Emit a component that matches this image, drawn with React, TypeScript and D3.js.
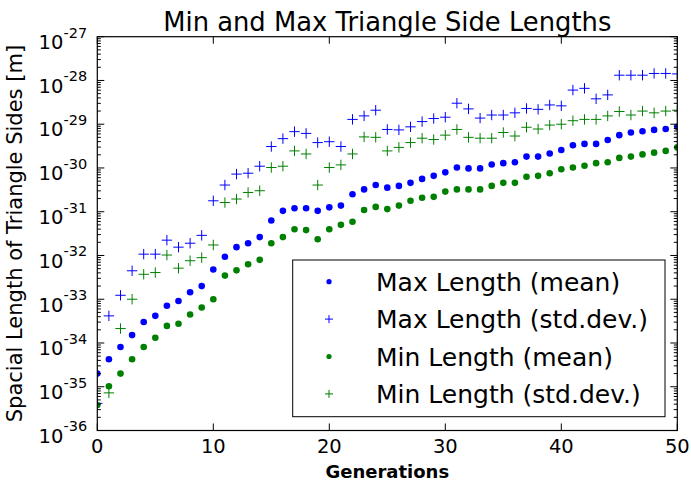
import React, { useEffect, useRef } from "react";
import * as d3 from "d3";

// values, stored as log10 of the length in metres (index = generation)
const maxMeanLog = [
  -34.70, -34.37, -34.09, -33.82, -33.52, -33.38, -33.15, -33.04, -32.84, -32.70,
  -32.32, -32.03, -31.81, -31.72, -31.58, -31.20, -30.98, -30.92, -30.92, -30.98,
  -30.90, -30.86, -30.60, -30.49, -30.39, -30.45, -30.41, -30.34, -30.25, -30.18,
  -30.10, -29.99, -30.01, -30.01, -29.92, -29.89, -29.87, -29.74, -29.74, -29.67,
  -29.59, -29.48, -29.45, -29.45, -29.36, -29.25, -29.19, -29.16, -29.13, -29.11,
  -29.06,
];
const maxStdLog = [
  -35.38, -33.38, -32.91, -32.35, -31.97, -31.97, -31.65, -31.81, -31.72, -31.54,
  -30.75, -30.39, -30.14, -30.12, -29.96, -29.51, -29.33, -29.17, -29.21, -29.42,
  -29.40, -29.51, -28.89, -28.81, -28.68, -29.12, -29.13, -29.06, -28.94, -28.87,
  -28.84, -28.52, -28.65, -28.86, -28.79, -28.79, -28.74, -28.64, -28.66, -28.56,
  -28.58, -28.22, -28.18, -28.42, -28.33, -27.88, -27.88, -27.88, -27.84, -27.84,
  -27.85,
];
const minMeanLog = [
  -35.42, -34.99, -34.70, -34.37, -34.09, -33.88, -33.61, -33.56, -33.35, -33.19,
  -33.00, -32.46, -32.34, -32.20, -32.10, -31.72, -31.58, -31.40, -31.42, -31.63,
  -31.40, -31.30, -31.23, -30.96, -30.89, -30.94, -30.86, -30.75, -30.68, -30.66,
  -30.54, -30.49, -30.49, -30.49, -30.41, -30.34, -30.34, -30.20, -30.18, -30.12,
  -30.03, -29.99, -29.95, -29.89, -29.87, -29.77, -29.74, -29.69, -29.65, -29.61,
  -29.53,
];
const minStdLog = [
  null, -35.14, -33.67, -33.00, -32.43, -32.39, -31.99, -32.29, -32.12, -32.05,
  -31.76, -30.79, -30.71, -30.56, -30.52, -29.99, -29.96, -29.61, -29.68, -30.39,
  -29.99, -29.93, -29.68, -29.29, -29.30, -29.61, -29.53, -29.42, -29.32, -29.35,
  -29.25, -29.12, -29.30, -29.32, -29.32, -29.19, -29.27, -29.07, -29.11, -29.02,
  -29.00, -28.92, -28.89, -28.89, -28.81, -28.71, -28.79, -28.70, -28.74, -28.70,
  -28.68,
];

const seriesNames = [
  "Max Length (mean)",
  "Max Length (std.dev.)",
  "Min Length (mean)",
  "Min Length (std.dev.)",
];
const xTicks = [0, 10, 20, 30, 40, 50];
const yDecades = [-36, -35, -34, -33, -32, -31, -30, -29, -28, -27];
const minorMultipliers = [2, 3, 4, 5, 6, 7, 8, 9];

const W = 691;
const H = 484;
const FONT = "'DejaVu Sans', sans-serif";

export default function App() {
  const ref = useRef<SVGSVGElement>(null);

  useEffect(() => {
    const margin = { top: 36.7, right: 13.7, bottom: 53.5, left: 97.3 };
    const w = W - margin.left - margin.right;
    const h = H - margin.top - margin.bottom;

    const svg = d3.select(ref.current);
    svg.selectAll("*").remove();

    const g = svg.append("g").attr("transform", `translate(${margin.left}, ${margin.top})`);

    const x = d3.scaleLinear().domain([0, 50]).range([0, w]);
    const y = d3.scaleLog().domain([1e-36, 1e-27]).range([h, 0]);

    svg.append("defs")
      .append("clipPath")
      .attr("id", "plotclip")
      .append("rect")
      .attr("width", w)
      .attr("height", h);

    const plot = g.append("g").attr("clip-path", "url(#plotclip)");

    const series = [
      { name: seriesNames[0], data: maxMeanLog, color: "#0000ff", shape: "dot" },
      { name: seriesNames[1], data: maxStdLog, color: "#0000ff", shape: "plus" },
      { name: seriesNames[2], data: minMeanLog, color: "#008000", shape: "dot" },
      { name: seriesNames[3], data: minStdLog, color: "#008000", shape: "plus" },
    ];

    series.forEach((s, si) => {
      const pts = s.data
        .map((v, i) => ({ gen: i, v }))
        .filter(d => d.v !== null)
        .map(d => ({ gen: d.gen, val: Math.pow(10, d.v as number) }));
      if (s.shape === "dot") {
        plot.selectAll(`.dot${si}`)
          .data(pts)
          .join("circle")
          .attr("class", `dot${si}`)
          .attr("cx", d => x(d.gen))
          .attr("cy", d => y(d.val))
          .attr("r", 3.3)
          .attr("fill", s.color);
      } else {
        plot.selectAll(`.plus${si}`)
          .data(pts)
          .join("path")
          .attr("class", `plus${si}`)
          .attr("d", d => {
            const cx = x(d.gen), cy = y(d.val);
            return `M${cx - 5.2},${cy}H${cx + 5.2}M${cx},${cy - 5.2}V${cy + 5.2}`;
          })
          .attr("stroke", s.color)
          .attr("stroke-width", 1)
          .attr("fill", "none");
      }
    });

    // ticks (inside, all four sides)
    const ticks = g.append("g").attr("stroke", "#000").attr("stroke-width", 1);
    xTicks.forEach(t => {
      ticks.append("line").attr("x1", x(t)).attr("x2", x(t)).attr("y1", h).attr("y2", h - 7);
      ticks.append("line").attr("x1", x(t)).attr("x2", x(t)).attr("y1", 0).attr("y2", 7);
    });
    yDecades.forEach(d => {
      const yy = y(Math.pow(10, d));
      ticks.append("line").attr("x1", 0).attr("x2", 7).attr("y1", yy).attr("y2", yy);
      ticks.append("line").attr("x1", w).attr("x2", w - 7).attr("y1", yy).attr("y2", yy);
      if (d < -27) {
        minorMultipliers.forEach(m => {
          const ym = y(m * Math.pow(10, d));
          ticks.append("line").attr("x1", 0).attr("x2", 3.5).attr("y1", ym).attr("y2", ym);
          ticks.append("line").attr("x1", w).attr("x2", w - 3.5).attr("y1", ym).attr("y2", ym);
        });
      }
    });

    // frame
    g.append("rect")
      .attr("width", w)
      .attr("height", h)
      .attr("fill", "none")
      .attr("stroke", "#000")
      .attr("stroke-width", 1.2);

    // x tick labels
    g.selectAll(".xlab")
      .data(xTicks)
      .join("text")
      .attr("class", "xlab")
      .attr("x", d => x(d))
      .attr("y", h + 22.5)
      .attr("text-anchor", "middle")
      .style("font-family", FONT)
      .style("font-size", "19.5px")
      .attr("fill", "#000")
      .text(d => d);

    // y tick labels: 10^n
    yDecades.forEach(d => {
      const yy = y(Math.pow(10, d));
      g.append("text")
        .attr("x", -34)
        .attr("y", yy + 12.3)
        .attr("text-anchor", "end")
        .style("font-family", FONT)
        .style("font-size", "19.5px")
        .attr("fill", "#000")
        .text("10");
      g.append("text")
        .attr("x", -33.8)
        .attr("y", yy + 0.8)
        .attr("text-anchor", "start")
        .style("font-family", FONT)
        .style("font-size", "14.5px")
        .attr("fill", "#000")
        .text(`-${-d}`);
    });

    // title and axis labels
    g.append("text")
      .attr("x", w / 2)
      .attr("y", -5.5)
      .attr("text-anchor", "middle")
      .style("font-family", FONT)
      .style("font-size", "25.8px")
      .attr("fill", "#000")
      .text("Min and Max Triangle Side Lengths");

    g.append("text")
      .attr("x", w / 2)
      .attr("y", h + 47.5)
      .attr("text-anchor", "middle")
      .style("font-family", FONT)
      .style("font-size", "18px")
      .style("font-weight", "bold")
      .attr("fill", "#000")
      .text("Generations");

    g.append("text")
      .attr("transform", "rotate(-90)")
      .attr("x", -h / 2)
      .attr("y", -margin.left + 22)
      .attr("text-anchor", "middle")
      .style("font-family", FONT)
      .style("font-size", "21px")
      .attr("fill", "#000")
      .text("Spacial Length of Triangle Sides [m]");

    // legend
    const lg = svg.append("g").attr("transform", "translate(292.7, 260)");
    lg.append("rect")
      .attr("width", 372.3)
      .attr("height", 156.7)
      .attr("fill", "#fff")
      .attr("stroke", "#000")
      .attr("stroke-width", 1);
    const rowY = (i: number) => 21.7 + i * 37.4;
    series.forEach((s, i) => {
      const cy = rowY(i);
      if (s.shape === "dot") {
        lg.append("circle").attr("cx", 36.3).attr("cy", cy).attr("r", 2.6).attr("fill", s.color);
      } else {
        lg.append("path")
          .attr("d", `M${36.3 - 4},${cy}H${36.3 + 4}M36.3,${cy - 4}V${cy + 4}`)
          .attr("stroke", s.color)
          .attr("stroke-width", 1)
          .attr("fill", "none");
      }
      lg.append("text")
        .attr("x", 83.3)
        .attr("y", cy + 9)
        .style("font-family", FONT)
        .style("font-size", "25px")
        .attr("fill", "#000")
        .text(s.name);
    });
  }, []);

  return (
    <div style={{ position: "absolute", left: 0, top: 0, background: "#fff" }}>
      <svg ref={ref} width={W} height={H} style={{ display: "block" }} />
    </div>
  );
}
